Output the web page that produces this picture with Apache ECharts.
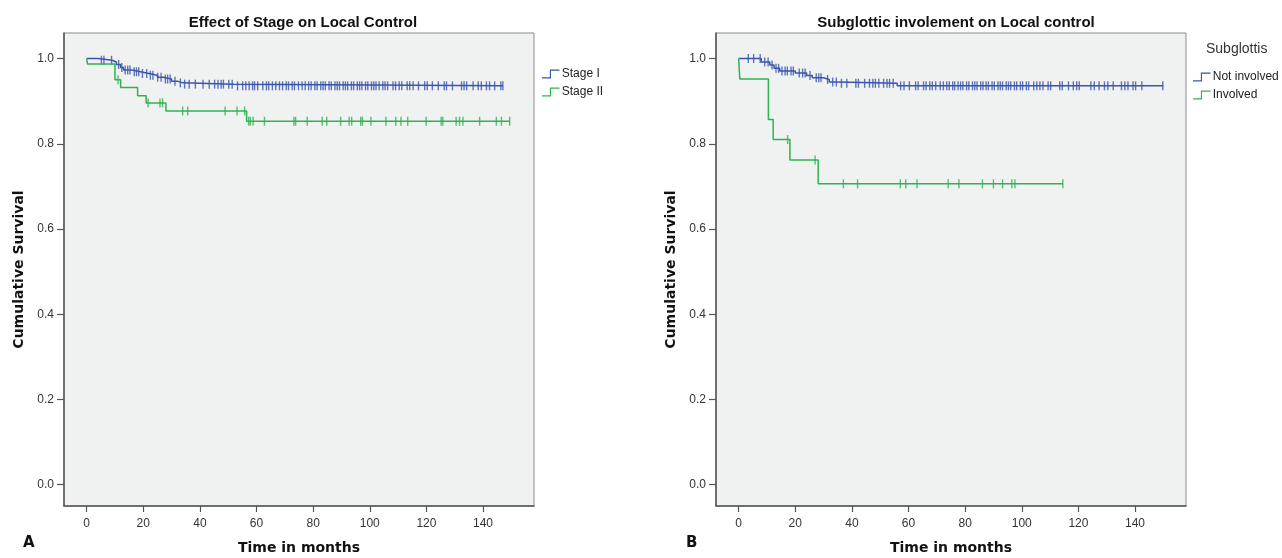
<!DOCTYPE html>
<html>
<head>
<meta charset="utf-8">
<script src="https://cdn.jsdelivr.net/npm/echarts@6/dist/echarts.min.js"></script>
<style>
  html, body { margin: 0; padding: 0; background: #fff; }
  #chart { width: 1282px; height: 558px; }
</style>
</head>
<body>
<div id="chart"></div>
<script>
// Kaplan-Meier steps: [time in months, cumulative survival after that time]
const stage1Steps = [[0, 1.0], [4, 0.996], [9, 0.992], [10.5, 0.986], [12, 0.979], [13, 0.973], [16, 0.969],
  [19, 0.965], [22, 0.961], [25, 0.956], [27, 0.952], [30, 0.947], [32, 0.943], [34, 0.94], [52, 0.936], [147, 0.936]];
const stage2Steps = [[0, 1.0], [0.3, 0.987], [10, 0.95], [12, 0.932], [18, 0.913], [21, 0.896], [28, 0.877],
  [56.5, 0.853], [149.4, 0.853]];
const notInvolvedSteps = [[0, 1.0], [8, 0.992], [11, 0.985], [12.5, 0.977], [14.5, 0.971], [20, 0.966], [24, 0.96],
  [26, 0.955], [30, 0.951], [32, 0.945], [35, 0.942], [56, 0.936], [150, 0.936]];
const involvedSteps = [[0, 1.0], [0.4, 0.952], [10.5, 0.857], [12.2, 0.81], [18.1, 0.762], [28.1, 0.706], [114.5, 0.706]];

// censored observations (months)
const stage1Censored = [5.2, 6.1, 8.8, 11.3, 12.4, 13.6, 14.5, 15.3, 16.8, 17.6, 18.4, 19.7, 21.2, 22.5, 23.4, 25.1,
  26.3, 27.8, 28.6, 29.5, 31.2, 33.1, 34.6, 36.2, 38.4, 41.1, 43.3, 45.2, 46.4, 47.5, 48.3, 50.2, 51.4, 53.3, 55.1,
  56.2, 57.4, 58.6, 59.3, 60.4, 62.2, 63.5, 64.3, 65.6, 66.8, 68.1, 69.2, 70.5, 71.3, 72.6, 73.4, 74.8, 76.1, 77.2,
  78.4, 79.3, 80.6, 81.4, 82.7, 83.5, 84.3, 85.6, 86.4, 87.7, 88.5, 89.3, 90.6, 91.4, 92.2, 93.5, 94.3, 95.6, 96.4,
  97.2, 98.5, 99.3, 100.6, 101.4, 102.2, 103.3, 104.6, 105.4, 106.3, 108.2, 109.1, 110.4, 111.3, 113.2, 114.1, 115.3,
  117.2, 119.4, 120.3, 122.1, 124.2, 126.3, 127.1, 129.2, 132.4, 133.3, 134.2, 136.5, 138.3, 139.4, 141.2, 142.3,
  144.1, 146.3, 147];
const stage2Censored = [11.1, 21.7, 25.9, 26.8, 33.9, 35.7, 48.9, 53.1, 55.8, 57.2, 57.8, 58.8, 62.8, 73.2, 73.8,
  77.9, 83.2, 84.8, 89.7, 92.7, 93.6, 96.8, 97.4, 100.4, 105.7, 109.2, 111, 113.4, 119.9, 125.2, 125.8, 130.5, 131.7,
  132.9, 138.8, 144.7, 146.5, 149.4];
const notInvolvedCensored = [3.4, 5.3, 7.6, 9.2, 10.4, 11.8, 13.2, 14.1, 15.3, 16.4, 17.2, 18.5, 19.3, 21.4, 22.6,
  23.5, 25.2, 27.4, 28.3, 29.1, 31.4, 33.2, 34.5, 36.3, 38.2, 41.4, 42.3, 44.5, 46.2, 47.4, 48.3, 49.5, 51.2, 52.4,
  53.3, 54.6, 57.2, 58.4, 60.3, 62.5, 63.4, 65.3, 66.2, 67.5, 68.4, 69.6, 71.2, 72.3, 73.5, 74.4, 75.6, 76.3, 77.5,
  78.4, 79.2, 80.5, 81.3, 82.6, 83.4, 84.2, 85.5, 86.3, 87.4, 88.2, 89.5, 90.3, 91.6, 92.4, 93.2, 94.5, 95.3, 96.1,
  97.4, 98.2, 99.5, 100.3, 101.6, 102.4, 104.2, 105.3, 106.4, 107.5, 109.3, 110.2, 113.4, 114.3, 116.5, 118.2, 119.4,
  120.3, 124.4, 125.6, 127.3, 129.2, 130.4, 132.3, 135.2, 136.4, 137.5, 139.3, 140.2, 142.4, 149.8];
const involvedCensored = [17.3, 27, 37, 42, 57.1, 59, 63, 74, 77.8, 86.1, 90, 93.2, 96.5, 97.6, 114.5];

const xTicks = [0, 20, 40, 60, 80, 100, 120, 140];
const yTicks = [0, 0.2, 0.4, 0.6, 0.8, 1.0];

const blue = '#3A55AD';
const green = '#2EB34F';

function survivalAt(steps, t) {
  let s = steps[0][1];
  for (const p of steps) { if (p[0] <= t) s = p[1]; }
  return s;
}
function censorPoints(steps, times) {
  return times.map(t => [t, survivalAt(steps, t)]);
}

const stepIcon = 'path://M0,9L9,9L9,0L20,0L20,1.3L10.3,1.3L10.3,10.3L0,10.3Z';
const tickFont = { fontFamily: 'Liberation Sans', fontSize: 12, color: '#333' };
const nameFont = { fontFamily: 'DejaVu Sans', fontWeight: 'bold', fontSize: 14, color: '#111' };

function makeGrid(left) {
  return { left: left, top: 33, width: 470, height: 473, show: true, backgroundColor: '#F0F1F1',
    borderColor: '#8a8a8a', borderWidth: 1, containLabel: false, outerBoundsMode: 'none' };
}
function makeX(idx) {
  return {
    type: 'value', gridIndex: idx, min: -8, max: 158,
    name: 'Time in months', nameLocation: 'middle', nameGap: 35, nameTextStyle: nameFont,
    splitLine: { show: false },
    axisLine: { onZero: false, lineStyle: { color: '#555', width: 1.5 } },
    axisTick: { customValues: xTicks, length: 6, lineStyle: { color: '#555', width: 1.2 } },
    axisLabel: Object.assign({ customValues: xTicks, margin: 12 }, tickFont)
  };
}
function makeY(idx) {
  return {
    type: 'value', gridIndex: idx, min: -0.05, max: 1.06,
    name: 'Cumulative Survival', nameLocation: 'middle', nameGap: 38, nameTextStyle: nameFont,
    splitLine: { show: false },
    axisLine: { onZero: false, lineStyle: { color: '#555', width: 1.5 } },
    axisTick: { customValues: yTicks, length: 7, lineStyle: { color: '#555', width: 1.2 } },
    axisLabel: Object.assign({ customValues: yTicks, margin: 10, formatter: v => v.toFixed(1) }, tickFont)
  };
}
function kmLine(name, idx, steps, color) {
  return { name: name, type: 'line', xAxisIndex: idx, yAxisIndex: idx, step: 'end', data: steps,
    showSymbol: false, symbol: 'none', silent: true, color: color, lineStyle: { color: color, width: 1.5 } };
}
function censorMarks(name, idx, steps, times, color) {
  return { name: name, type: 'scatter', xAxisIndex: idx, yAxisIndex: idx, data: censorPoints(steps, times),
    symbol: 'rect', symbolSize: [1.4, 9], silent: true, itemStyle: { color: color } };
}

const chart = echarts.init(document.getElementById('chart'), null, { renderer: 'canvas' });
chart.setOption({
  animation: false,
  title: [
    { text: 'Effect of Stage on Local Control', left: 298, top: 10, textAlign: 'center',
      textStyle: { fontFamily: 'Liberation Sans', fontWeight: 'bold', fontSize: 15, color: '#111' } },
    { text: 'Subglottic involement on Local control', left: 951, top: 10, textAlign: 'center',
      textStyle: { fontFamily: 'Liberation Sans', fontWeight: 'bold', fontSize: 15, color: '#111' } },
    { text: 'A', left: 18, top: 531, textStyle: { fontFamily: 'DejaVu Sans', fontWeight: 'bold', fontSize: 15, color: '#111' } },
    { text: 'B', left: 681, top: 531, textStyle: { fontFamily: 'DejaVu Sans', fontWeight: 'bold', fontSize: 15, color: '#111' } },
    { text: 'Subglottis', left: 1201, top: 37, textStyle: { fontFamily: 'Liberation Sans', fontWeight: 'normal', fontSize: 14, color: '#333' } }
  ],
  legend: [
    { data: ['Stage I', 'Stage II'], orient: 'vertical', left: 537, top: 63, itemWidth: 20, itemHeight: 9,
      itemGap: 6, icon: stepIcon, selectedMode: false,
      textStyle: { fontFamily: 'Liberation Sans', fontSize: 12, color: '#222', padding: [0, 0, 0, -4] } },
    { data: ['Not involved', 'Involved'], orient: 'vertical', left: 1188, top: 66, itemWidth: 20, itemHeight: 9,
      itemGap: 6, icon: stepIcon, selectedMode: false,
      textStyle: { fontFamily: 'Liberation Sans', fontSize: 12, color: '#222', padding: [0, 0, 0, -4] } }
  ],
  grid: [makeGrid(64), makeGrid(716)],
  xAxis: [makeX(0), makeX(1)],
  yAxis: [makeY(0), makeY(1)],
  series: [
    kmLine('Stage I', 0, stage1Steps, blue),
    kmLine('Stage II', 0, stage2Steps, green),
    censorMarks('Stage I censored', 0, stage1Steps, stage1Censored, blue),
    censorMarks('Stage II censored', 0, stage2Steps, stage2Censored, green),
    kmLine('Not involved', 1, notInvolvedSteps, blue),
    kmLine('Involved', 1, involvedSteps, green),
    censorMarks('Not involved censored', 1, notInvolvedSteps, notInvolvedCensored, blue),
    censorMarks('Involved censored', 1, involvedSteps, involvedCensored, green)
  ]
});
</script>
</body>
</html>
